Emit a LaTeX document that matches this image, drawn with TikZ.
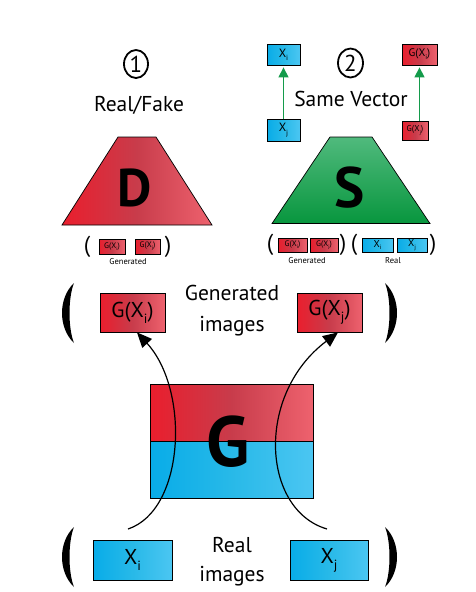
\documentclass[tikz,border=0pt]{standalone}
\usepackage{fontspec}
\usepackage{graphicx}
\setmainfont{PT Sans}
\usetikzlibrary{arrows.meta,shapes.geometric}
\newcommand\lowsub[1]{\raisebox{-0.28em}{\scalebox{0.62}{#1}}}
\definecolor{rL}{RGB}{234,30,45}
\definecolor{rM}{RGB}{200,60,75}
\definecolor{rR}{RGB}{238,98,110}
\definecolor{bL}{RGB}{8,172,232}
\definecolor{bM}{RGB}{40,185,232}
\definecolor{bR}{RGB}{75,198,242}
\definecolor{gT}{RGB}{80,186,125}
\definecolor{gB}{RGB}{8,150,62}
\definecolor{arrG}{RGB}{20,155,75}
\tikzset{
  redbox/.style={draw=black, line width=0.8pt, inner sep=0pt,
    left color=rL, right color=rR, middle color=rM},
  bluebox/.style={draw=black, line width=0.8pt, inner sep=0pt,
    left color=bL, right color=bR, middle color=bM},
  bigtxt/.style={font=\fontsize{21.5}{21.5}\selectfont},
  midtxt/.style={font=\fontsize{12}{12}\selectfont},
  tinytxt/.style={font=\fontsize{8}{8}\selectfont},
  captxt/.style={font=\fontsize{8.5}{8.5}\selectfont},
  numcirc/.style={ellipse, draw, line width=1.8pt, inner sep=0pt,
    minimum width=24pt, minimum height=28pt, font=\fontsize{23}{23}\selectfont},
  letter/.style={font=\fontsize{#1}{#1}\selectfont\bfseries},
  genarrow/.style={line width=1.2pt, -{Triangle[length=15pt,width=13pt]}},
  samearrow/.style={arrG, line width=1.3pt, -{Triangle[length=10pt,width=10pt]}, shorten >=2pt},
  smallpar/.style={font=\fontsize{23}{23}\selectfont, inner sep=0pt},
  lpar/.pic={\fill (0,-30) .. controls (-16,-15) and (-16,15) .. (0,30)
     .. controls (-6,15) and (-6,-15) .. (0,-30) -- cycle;}
}
\begin{document}
\begin{tikzpicture}[x=1pt,y=-1pt]
\useasboundingbox (0,0) rectangle (475,592);

% ---------- top: discriminator D ----------
\node[numcirc] (c1) at (136,64) {1};
\node[bigtxt, anchor=base] (rf) at (139,111.7) {Real/Fake};
\draw[line width=0.7pt, left color=rL, right color=rR, middle color=rM]
  (62,225) -- (118,137) -- (156,137) -- (212,225) -- cycle;
\node[letter=53] (D) at (135,188) {D};
\node[redbox, minimum width=26pt, minimum height=15pt, tinytxt] (dg1) at (112,246.5) {G(X\lowsub{i})};
\node[redbox, minimum width=25pt, minimum height=15pt, tinytxt] (dg2) at (147.5,246.5) {G(X\lowsub{j})};
\node[smallpar] (dp1) at (87,247) {(};
\node[smallpar] (dp2) at (168,247) {)};
\node[captxt] (dgen) at (128,262) {Generated};

% ---------- top: S ----------
\node[numcirc, minimum width=25pt, minimum height=29pt] (c2) at (350.5,63) {2};
\node[bigtxt, anchor=base] (sv) at (351,106.7) {Same Vector};
\node[bluebox, minimum width=33pt, minimum height=21pt, midtxt] (xiS) at (283.5,54.5) {X\lowsub{i}};
\node[bluebox, minimum width=33pt, minimum height=22pt, midtxt] (xjS) at (283.5,130) {X\lowsub{j}};
\node[redbox, minimum width=35pt, minimum height=21pt, font=\fontsize{11}{11}\selectfont] (giS) at (419.5,54.5) {G(X\lowsub{i})};
\node[redbox, minimum width=26pt, minimum height=19pt, font=\fontsize{8.5}{8.5}\selectfont] (gjS) at (415,130.5) {G(X\lowsub{j})};
\draw[samearrow] (xjS.north) -- (xiS.south);
\draw[samearrow] (giS.south |- gjS.north) -- (giS.south);
\draw[line width=0.7pt, top color=gT, bottom color=gB]
  (272,223.5) -- (330,137) -- (372,137) -- (430,223.5) -- cycle;
\node[letter=57] (S) at (350,188) {S};
\node[smallpar] (sp1) at (270,245) {(};
\node[redbox, minimum width=29pt, minimum height=14pt, tinytxt] (sg1) at (292.5,245) {G(X\lowsub{i})};
\node[redbox, minimum width=28pt, minimum height=14pt, tinytxt] (sg2) at (324,245) {G(X\lowsub{j})};
\node[smallpar] (sp2) at (343,245) {)};
\node[smallpar] (sp3) at (354,245) {(};
\node[bluebox, minimum width=31pt, minimum height=14pt, font=\fontsize{10}{10}\selectfont] (sx1) at (377.5,245) {X\lowsub{i}};
\node[bluebox, minimum width=30pt, minimum height=14pt, font=\fontsize{10}{10}\selectfont] (sx2) at (412,245) {X\lowsub{j}};
\node[smallpar] (sp4) at (433,245) {)};
\node[captxt] (sgen) at (307,261) {Generated};
\node[captxt] (sreal) at (393,261) {Real};

% ---------- generated images ----------
\path (74,313) pic {lpar};
\path (385,313) pic[xscale=-1] {lpar};
\node[redbox, minimum width=65pt, minimum height=39pt, bigtxt] (Gi) at (132.5,312.5) {G(X\lowsub{i})};
\node[redbox, minimum width=65pt, minimum height=39pt, bigtxt] (Gj) at (329.5,312.5) {G(X\lowsub{j})};
\node[bigtxt, anchor=base] (genA) at (232,300.7) {Generated};
\node[bigtxt, anchor=base] (genB) at (232,331) {images};

% ---------- generator G ----------
\node[redbox, minimum width=163pt, minimum height=57pt] (Gred) at (231.5,412.5) {};
\node[bluebox, minimum width=163pt, minimum height=57pt] (Gblue) at (231.5,469.5) {};
\node[letter=71] (G) at (228,442) {G};

% ---------- real images ----------
\path (74,557) pic {lpar};
\path (385,557) pic[xscale=-1] {lpar};
\node[bluebox, minimum width=79pt, minimum height=40pt, bigtxt] (Xi) at (132.5,560) {X\lowsub{i}};
\node[bluebox, minimum width=78pt, minimum height=40pt, bigtxt] (Xj) at (329,560) {X\lowsub{j}};
\node[bigtxt, anchor=base] (realA) at (232,552.7) {Real};
\node[bigtxt, anchor=base] (realB) at (232,581.7) {images};

% ---------- arrows through G ----------
\coordinate (si) at (128,529);
\coordinate (sj) at (327,529);
\draw[genarrow] (si) .. controls (185,510) and (190,390) .. (Gi.south -| 137,0);
\draw[genarrow] (sj) .. controls (262,510) and (255,395) .. (Gj.south -| 338,0);
\end{tikzpicture}
\end{document}
